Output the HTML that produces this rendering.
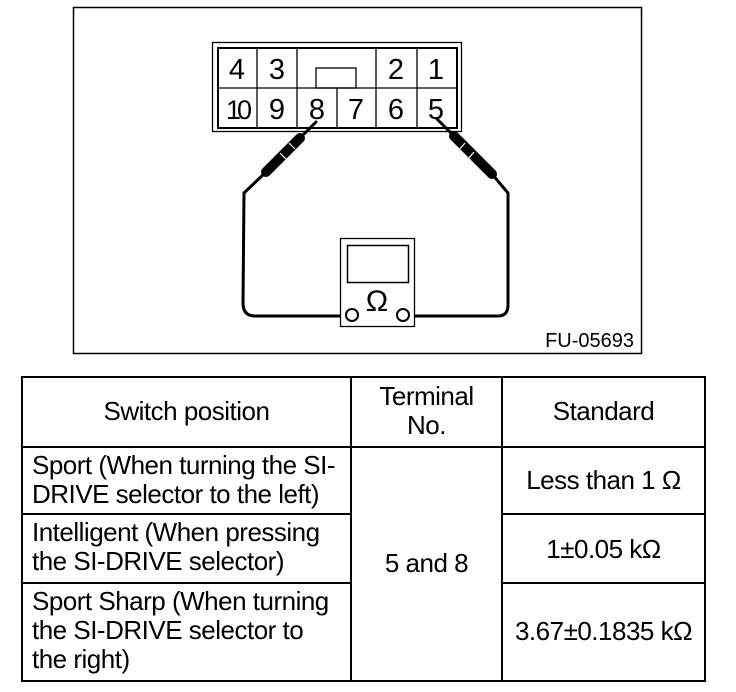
<!DOCTYPE html>
<html><head><style>
body{margin:0;background:#fff;width:736px;height:692px;position:relative;overflow:hidden;font-family:"Liberation Sans",sans-serif;}
.t{position:absolute;font-size:26px;line-height:29px;color:#000;letter-spacing:-0.5px;white-space:nowrap;}
.c{text-align:center;}
</style></head><body>
<svg width="736" height="692" style="position:absolute;left:0;top:0">
<rect x="73.5" y="7.5" width="568" height="346" fill="none" stroke="#000" stroke-width="1.5"/>
<rect x="212.5" y="42.5" width="249" height="89" fill="none" stroke="#000" stroke-width="1.3"/>
<g fill="none" stroke="#000" stroke-width="1.3">
<rect x="218" y="48" width="239" height="80" stroke-width="2"/>
<line x1="218" y1="88" x2="457" y2="88"/>
<line x1="257" y1="48" x2="257" y2="128"/>
<line x1="297" y1="48" x2="297" y2="128"/>
<line x1="376" y1="48" x2="376" y2="128"/>
<line x1="417" y1="48" x2="417" y2="128"/>
<line x1="337" y1="88" x2="337" y2="128"/>
</g>
<rect x="298" y="49" width="77" height="38" fill="#fff"/>
<rect x="316" y="68" width="40" height="20" fill="none" stroke="#000" stroke-width="1.3"/>
<g font-family="Liberation Sans, sans-serif" font-size="29" text-anchor="middle">
<text x="237" y="79">4</text><text x="277" y="79">3</text><text x="396" y="79">2</text><text x="436" y="79">1</text>
<text x="237" y="119" font-size="27" letter-spacing="-4">10</text><text x="277" y="119">9</text><text x="317" y="119">8</text><text x="356" y="119">7</text><text x="396" y="119">6</text><text x="436" y="119">5</text>
</g>
<g fill="none" stroke="#000" stroke-linecap="round" stroke-linejoin="round">
<path d="M316 122 L300 138" stroke-width="3"/>
<path d="M300 138 L266 172" stroke-width="10"/>
<path d="M266 172 L244 193 L243 303 Q243 316 255 316 L346 316" stroke-width="3"/>
<path d="M437 119 L454 136" stroke-width="3"/>
<path d="M454 136 L492 174" stroke-width="10"/>
<path d="M492 174 L508 193 L508 305 Q508 316 498 316 L409 316" stroke-width="3"/>
</g>
<g stroke="#fff" stroke-width="1.2">
<line x1="289" y1="143" x2="295" y2="149"/><line x1="280" y1="153" x2="286" y2="159"/>
<line x1="465" y1="143" x2="459" y2="150"/><line x1="474" y1="152" x2="468" y2="159"/>
</g>
<rect x="340.5" y="238.5" width="74" height="88" fill="#fff" stroke="#000" stroke-width="1.3"/>
<rect x="347.5" y="245.5" width="61" height="37" fill="none" stroke="#000" stroke-width="1.5"/>
<circle cx="352" cy="315" r="6" fill="#fff" stroke="#000" stroke-width="2"/>
<circle cx="403" cy="315" r="6" fill="#fff" stroke="#000" stroke-width="2"/>
<text x="377" y="311" font-family="Liberation Sans, sans-serif" font-size="30" text-anchor="middle">Ω</text>
<text x="634" y="347" font-family="Liberation Sans, sans-serif" font-size="20" text-anchor="end">FU-05693</text>
<g stroke="#000" stroke-width="2" fill="none">
<rect x="22" y="377" width="683" height="304"/>
<line x1="22" y1="447" x2="705" y2="447"/>
<line x1="351" y1="377" x2="351" y2="681"/>
<line x1="502" y1="377" x2="502" y2="681"/>
<line x1="22" y1="514" x2="351" y2="514"/>
<line x1="502" y1="514" x2="705" y2="514"/>
<line x1="22" y1="583" x2="351" y2="583"/>
<line x1="502" y1="583" x2="705" y2="583"/>
</g>
</svg>
<div class="t c" style="left:22px;width:329px;top:397px">Switch position</div>
<div class="t c" style="left:351px;width:151px;top:382px">Terminal<br>No.</div>
<div class="t c" style="left:502px;width:203px;top:397px">Standard</div>
<div class="t" style="left:32px;top:451px">Sport (When turning the SI-<br>DRIVE selector to the left)</div>
<div class="t" style="left:32px;top:518px">Intelligent (When pressing<br>the SI-DRIVE selector)</div>
<div class="t" style="left:32px;top:587px">Sport Sharp (When turning<br>the SI-DRIVE selector to<br>the right)</div>
<div class="t c" style="left:351px;width:151px;top:549px">5 and 8</div>
<div class="t c" style="left:502px;width:203px;top:466px">Less than 1 Ω</div>
<div class="t c" style="left:502px;width:203px;top:535px">1±0.05 kΩ</div>
<div class="t c" style="left:502px;width:203px;top:617px">3.67±0.1835 kΩ</div>
</body></html>
